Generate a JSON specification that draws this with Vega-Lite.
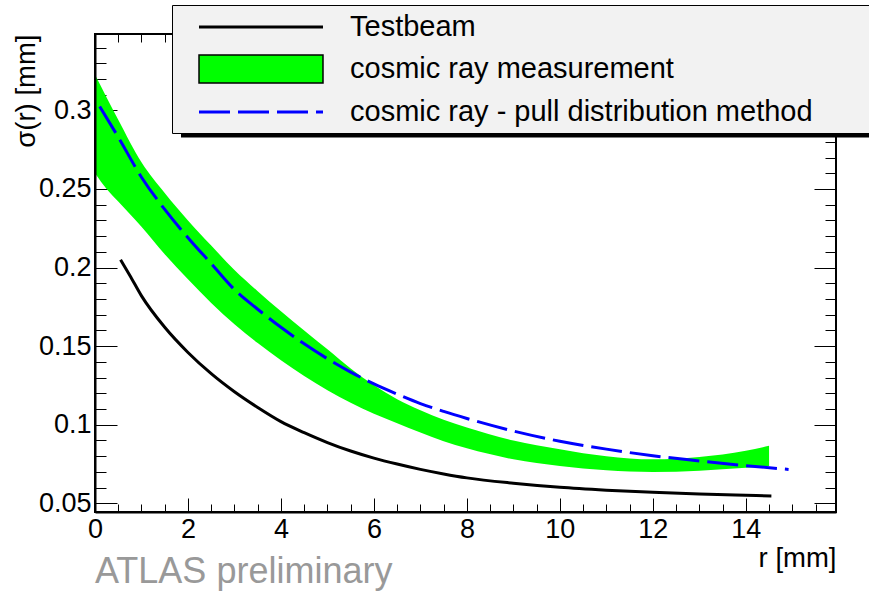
{
  "$schema": "https://vega.github.io/schema/vega-lite/v6.json",
  "width": 741,
  "height": 478,
  "autosize": {"type": "none"},
  "padding": {"left": 95, "top": 34, "right": 33, "bottom": 80},
  "title": {"text": "ATLAS preliminary", "orient": "bottom", "anchor": "start", "frame": "group", "font": "Liberation Sans", "fontSize": 36, "fontWeight": "normal", "color": "#999999", "baseline": "alphabetic", "offset": 11},
  "data": {"values": [
    {"series": "cosmic ray measurement", "r": 0.0, "lo": 0.2600, "hi": 0.3226},
    {"series": "cosmic ray measurement", "r": 0.25, "lo": 0.2500, "hi": 0.3082},
    {"series": "cosmic ray measurement", "r": 0.5, "lo": 0.2420, "hi": 0.2940},
    {"series": "cosmic ray measurement", "r": 1.0, "lo": 0.2260, "hi": 0.2670},
    {"series": "cosmic ray measurement", "r": 1.5, "lo": 0.2085, "hi": 0.2475},
    {"series": "cosmic ray measurement", "r": 2.0, "lo": 0.1925, "hi": 0.2300},
    {"series": "cosmic ray measurement", "r": 2.5, "lo": 0.1775, "hi": 0.2140},
    {"series": "cosmic ray measurement", "r": 3.0, "lo": 0.1640, "hi": 0.1985},
    {"series": "cosmic ray measurement", "r": 3.5, "lo": 0.1520, "hi": 0.1850},
    {"series": "cosmic ray measurement", "r": 4.0, "lo": 0.1410, "hi": 0.1722},
    {"series": "cosmic ray measurement", "r": 4.5, "lo": 0.1310, "hi": 0.1600},
    {"series": "cosmic ray measurement", "r": 5.0, "lo": 0.1220, "hi": 0.1480},
    {"series": "cosmic ray measurement", "r": 5.5, "lo": 0.1140, "hi": 0.1358},
    {"series": "cosmic ray measurement", "r": 6.0, "lo": 0.1070, "hi": 0.1252},
    {"series": "cosmic ray measurement", "r": 6.5, "lo": 0.1010, "hi": 0.1163},
    {"series": "cosmic ray measurement", "r": 7.0, "lo": 0.0950, "hi": 0.1092},
    {"series": "cosmic ray measurement", "r": 7.5, "lo": 0.0895, "hi": 0.1032},
    {"series": "cosmic ray measurement", "r": 8.0, "lo": 0.0850, "hi": 0.0982},
    {"series": "cosmic ray measurement", "r": 9.0, "lo": 0.0780, "hi": 0.0900},
    {"series": "cosmic ray measurement", "r": 10.0, "lo": 0.0737, "hi": 0.0845},
    {"series": "cosmic ray measurement", "r": 11.0, "lo": 0.0710, "hi": 0.0800},
    {"series": "cosmic ray measurement", "r": 12.0, "lo": 0.0700, "hi": 0.0780},
    {"series": "cosmic ray measurement", "r": 13.0, "lo": 0.0708, "hi": 0.0795},
    {"series": "cosmic ray measurement", "r": 14.0, "lo": 0.0726, "hi": 0.0835},
    {"series": "cosmic ray measurement", "r": 14.5, "lo": 0.0737, "hi": 0.0866},
    {"series": "Testbeam", "r": 0.55, "sigma": 0.2050},
    {"series": "Testbeam", "r": 0.75, "sigma": 0.1950},
    {"series": "Testbeam", "r": 1.0, "sigma": 0.1820},
    {"series": "Testbeam", "r": 1.5, "sigma": 0.1620},
    {"series": "Testbeam", "r": 2.0, "sigma": 0.1460},
    {"series": "Testbeam", "r": 2.5, "sigma": 0.1325},
    {"series": "Testbeam", "r": 3.0, "sigma": 0.1210},
    {"series": "Testbeam", "r": 3.5, "sigma": 0.1110},
    {"series": "Testbeam", "r": 4.0, "sigma": 0.1020},
    {"series": "Testbeam", "r": 4.5, "sigma": 0.0950},
    {"series": "Testbeam", "r": 5.0, "sigma": 0.0887},
    {"series": "Testbeam", "r": 5.5, "sigma": 0.0833},
    {"series": "Testbeam", "r": 6.0, "sigma": 0.0788},
    {"series": "Testbeam", "r": 6.5, "sigma": 0.0750},
    {"series": "Testbeam", "r": 7.0, "sigma": 0.0716},
    {"series": "Testbeam", "r": 7.5, "sigma": 0.0687},
    {"series": "Testbeam", "r": 8.0, "sigma": 0.0662},
    {"series": "Testbeam", "r": 9.0, "sigma": 0.0628},
    {"series": "Testbeam", "r": 10.0, "sigma": 0.0602},
    {"series": "Testbeam", "r": 11.0, "sigma": 0.0584},
    {"series": "Testbeam", "r": 12.0, "sigma": 0.0570},
    {"series": "Testbeam", "r": 13.0, "sigma": 0.0559},
    {"series": "Testbeam", "r": 14.0, "sigma": 0.0551},
    {"series": "Testbeam", "r": 14.55, "sigma": 0.0547},
    {"series": "cosmic ray - pull distribution method", "r": 0.1, "sigma": 0.3025},
    {"series": "cosmic ray - pull distribution method", "r": 0.5, "sigma": 0.2830},
    {"series": "cosmic ray - pull distribution method", "r": 1.0, "sigma": 0.2575},
    {"series": "cosmic ray - pull distribution method", "r": 1.5, "sigma": 0.2370},
    {"series": "cosmic ray - pull distribution method", "r": 2.0, "sigma": 0.2190},
    {"series": "cosmic ray - pull distribution method", "r": 2.5, "sigma": 0.2025},
    {"series": "cosmic ray - pull distribution method", "r": 3.0, "sigma": 0.1860},
    {"series": "cosmic ray - pull distribution method", "r": 3.5, "sigma": 0.1735},
    {"series": "cosmic ray - pull distribution method", "r": 4.0, "sigma": 0.1620},
    {"series": "cosmic ray - pull distribution method", "r": 4.5, "sigma": 0.1515},
    {"series": "cosmic ray - pull distribution method", "r": 5.0, "sigma": 0.1420},
    {"series": "cosmic ray - pull distribution method", "r": 5.5, "sigma": 0.1335},
    {"series": "cosmic ray - pull distribution method", "r": 6.0, "sigma": 0.1260},
    {"series": "cosmic ray - pull distribution method", "r": 6.5, "sigma": 0.1195},
    {"series": "cosmic ray - pull distribution method", "r": 7.0, "sigma": 0.1135},
    {"series": "cosmic ray - pull distribution method", "r": 7.5, "sigma": 0.1085},
    {"series": "cosmic ray - pull distribution method", "r": 8.0, "sigma": 0.1040},
    {"series": "cosmic ray - pull distribution method", "r": 9.0, "sigma": 0.0960},
    {"series": "cosmic ray - pull distribution method", "r": 10.0, "sigma": 0.0895},
    {"series": "cosmic ray - pull distribution method", "r": 11.0, "sigma": 0.0845},
    {"series": "cosmic ray - pull distribution method", "r": 12.0, "sigma": 0.0803},
    {"series": "cosmic ray - pull distribution method", "r": 13.0, "sigma": 0.0770},
    {"series": "cosmic ray - pull distribution method", "r": 14.0, "sigma": 0.0740},
    {"series": "cosmic ray - pull distribution method", "r": 14.92, "sigma": 0.0716}
  ]},
  "layer": [
    {
      "transform": [{"filter": "datum.series === 'cosmic ray measurement'"}],
      "mark": {"type": "area", "interpolate": "monotone", "color": "#00ff00"},
      "encoding": {
        "x": {"field": "r", "type": "quantitative",
              "scale": {"domain": [0, 15.94], "nice": false, "zero": false},
              "axis": {"orient": "bottom", "values": [0, 2, 4, 6, 8, 10, 12, 14], "format": "d", "tickSize": -14, "labelPadding": 18, "labelFontSize": 27, "title": "r [mm]", "titleFontSize": 27.5, "titleAnchor": "end", "titleAlign": "right", "titleBaseline": "alphabetic", "titleY": 54}},
        "y": {"field": "lo", "type": "quantitative",
              "scale": {"domain": [0.0445, 0.3486], "nice": false, "zero": false},
              "axis": {"orient": "left", "values": [0.05, 0.1, 0.15, 0.2, 0.25, 0.3], "format": "~g", "tickSize": -22, "labelPadding": 26, "labelFontSize": 27, "title": "σ(r) [mm]", "titleFontSize": 27.5, "titleAnchor": "end", "titleAlign": "right", "titleAngle": -90, "titleBaseline": "middle", "titleX": -69, "titleY": 0}},
        "y2": {"field": "hi"}
      }
    },
    {
      "transform": [{"filter": "datum.series === 'Testbeam'"}],
      "mark": {"type": "line", "interpolate": "monotone", "strokeWidth": 3, "color": "#000000"},
      "encoding": {
        "x": {"field": "r", "type": "quantitative",
              "axis": {"orient": "bottom", "values": [0.5, 1, 1.5, 2.5, 3, 3.5, 4.5, 5, 5.5, 6.5, 7, 7.5, 8.5, 9, 9.5, 10.5, 11, 11.5, 12.5, 13, 13.5, 14.5, 15, 15.5], "tickSize": -8, "labels": false, "title": null}},
        "y": {"field": "sigma", "type": "quantitative",
              "axis": {"orient": "left", "values": [0.06, 0.07, 0.08, 0.09, 0.11, 0.12, 0.13, 0.14, 0.16, 0.17, 0.18, 0.19, 0.21, 0.22, 0.23, 0.24, 0.26, 0.27, 0.28, 0.29, 0.31, 0.32, 0.33, 0.34], "tickSize": -11, "labels": false, "title": null}}
      }
    },
    {
      "transform": [{"filter": "datum.series === 'cosmic ray - pull distribution method'"}],
      "mark": {"type": "line", "interpolate": "monotone", "strokeWidth": 3, "strokeDash": [31, 8], "color": "#0000ff"},
      "encoding": {
        "x": {"field": "r", "type": "quantitative",
              "axis": {"orient": "top", "values": [0, 2, 4, 6, 8, 10, 12, 14], "tickSize": -14, "labels": false, "title": null}},
        "y": {"field": "sigma", "type": "quantitative",
              "axis": {"orient": "right", "values": [0.05, 0.1, 0.15, 0.2, 0.25, 0.3], "tickSize": -22, "labels": false, "title": null}}
      }
    },
    {
      "data": {"values": []},
      "mark": {"type": "point", "filled": true, "strokeWidth": 1.5, "opacity": 1},
      "encoding": {
        "x": {"field": "r", "type": "quantitative",
              "axis": {"orient": "top", "values": [0.5, 1, 1.5, 2.5, 3, 3.5, 4.5, 5, 5.5, 6.5, 7, 7.5, 8.5, 9, 9.5, 10.5, 11, 11.5, 12.5, 13, 13.5, 14.5, 15, 15.5], "tickSize": -8, "labels": false, "title": null}},
        "y": {"field": "sigma", "type": "quantitative",
              "axis": {"orient": "right", "values": [0.06, 0.07, 0.08, 0.09, 0.11, 0.12, 0.13, 0.14, 0.16, 0.17, 0.18, 0.19, 0.21, 0.22, 0.23, 0.24, 0.26, 0.27, 0.28, 0.29, 0.31, 0.32, 0.33, 0.34], "tickSize": -11, "labels": false, "title": null}},
        "shape": {"field": "series", "type": "nominal",
                  "scale": {"domain": ["Testbeam", "cosmic ray measurement", "cosmic ray - pull distribution method"],
                            "range": [
                              "M-4.133,-0.1H4.133V0.1H-4.133Z M41.4,0L41.6,0L41.4,0.2Z",
                              "M-4.133,-0.933H4.133V0.933H-4.133Z M41.4,0L41.6,0L41.4,0.2Z",
                              "M-4.133,-0.1H-2.067V0.1H-4.133Z M-1.533,-0.1H0.533V0.1H-1.533Z M1.067,-0.1H3.133V0.1H1.067Z M3.667,-0.1H4.133V0.1H3.667Z M41.4,0L41.6,0L41.4,0.2Z"]},
                  "legend": {
                    "title": null, "orient": "none", "legendX": 77, "legendY": -29, "direction": "vertical",
                    "padding": 6, "fillColor": "#f2f2f2", "strokeColor": "#000000",
                    "rowPadding": 10, "symbolOffset": 67, "labelOffset": 73,
                    "symbolSize": 900, "symbolStrokeWidth": 1.5, "symbolOpacity": 1,
                    "labelFont": "Liberation Sans", "labelFontSize": 29, "labelColor": "#000000", "labelLimit": 2000
                  }},
        "fill": {"field": "series", "type": "nominal",
                 "scale": {"domain": ["Testbeam", "cosmic ray measurement", "cosmic ray - pull distribution method"], "range": ["#000000", "#00ff00", "#0000ff"]}},
        "stroke": {"field": "series", "type": "nominal",
                   "scale": {"domain": ["Testbeam", "cosmic ray measurement", "cosmic ray - pull distribution method"], "range": ["transparent", "#000000", "transparent"]}}
      }
    },
    {
      "data": {"values": []},
      "mark": {"type": "point", "filled": true, "color": "#000000", "opacity": 1},
      "encoding": {
        "x": {"field": "r", "type": "quantitative",
              "axis": {"orient": "bottom", "domain": true, "domainColor": "#000000", "domainWidth": 2, "ticks": false, "labels": false, "title": null, "zindex": 1}},
        "y": {"field": "sigma", "type": "quantitative",
              "axis": {"orient": "left", "domain": true, "domainColor": "#000000", "domainWidth": 2, "ticks": false, "labels": false, "title": null, "zindex": 1}},
        "size": {"field": "series", "type": "nominal",
                 "scale": {"domain": [""], "range": [16, 16]},
                 "legend": {
                   "title": null, "orient": "none", "legendX": 86, "legendY": 96.25,
                   "padding": 0, "symbolType": "M-175,-1.125H175V1.125H-175Z", "symbolOffset": 345,
                   "symbolStrokeWidth": 0, "symbolFillColor": "#000000", "labelFontSize": 0, "symbolOpacity": 1
                 }}
      }
    }
  ],
  "resolve": {"axis": {"x": "independent", "y": "independent"}},
  "config": {
    "font": "Liberation Sans",
    "view": {"stroke": "#000000", "strokeWidth": 2},
    "axis": {"grid": false, "domain": false, "labelFlush": false, "labelOverlap": false, "tickColor": "#000000", "tickWidth": 1, "labelFont": "Liberation Sans", "titleFont": "Liberation Sans", "labelColor": "#000000", "titleColor": "#000000", "titleFontWeight": "normal", "zindex": 0}
  }
}
